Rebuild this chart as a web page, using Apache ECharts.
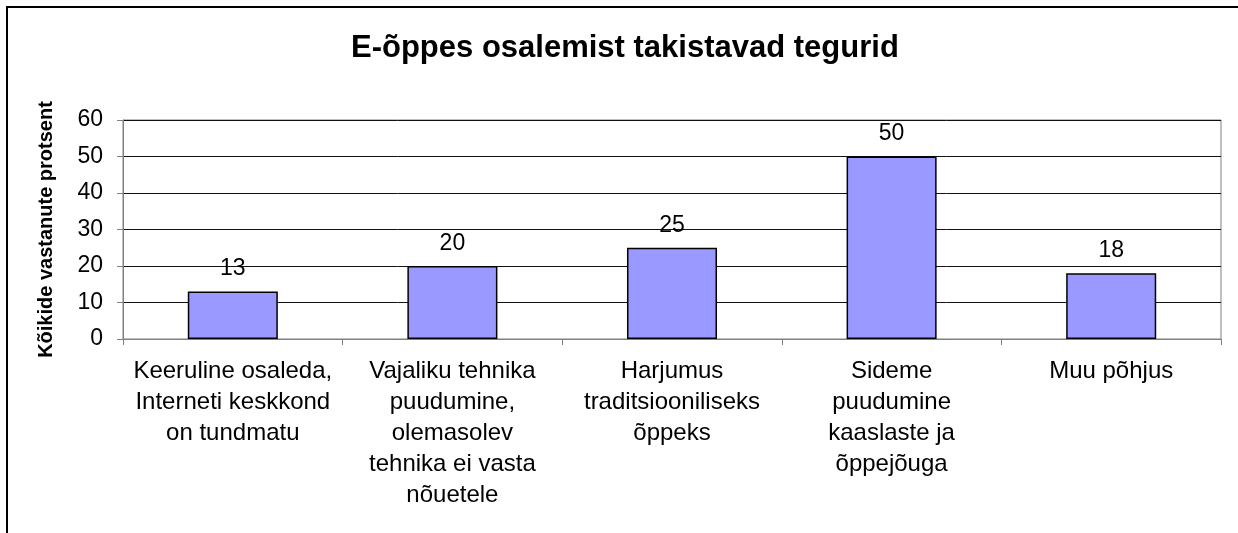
<!DOCTYPE html>
<html>
<head>
<meta charset="utf-8">
<script src="https://cdn.jsdelivr.net/npm/echarts@6/dist/echarts.min.js"></script>
<style>
  html, body { margin: 0; padding: 0; background: #fff; }
  #chart { width: 1238px; height: 533px; }
</style>
</head>
<body>
<div id="chart"></div>
<script>
  var categories = [
    'Keeruline osaleda,\nInterneti keskkond\non tundmatu',
    'Vajaliku tehnika\npuudumine,\nolemasolev\ntehnika ei vasta\nnõuetele',
    'Harjumus\ntraditsiooniliseks\nõppeks',
    'Sideme\npuudumine\nkaaslaste ja\nõppejõuga',
    'Muu põhjus'
  ];
  var values = [13, 20, 25, 50, 18];
  var yTicks = [0, 10, 20, 30, 40, 50, 60];

  var chart = echarts.init(document.getElementById('chart'));
  var font = '"Liberation Sans", Arial, sans-serif';
  var option = {
    animation: false,
    textStyle: { fontFamily: font },
    graphic: [{
      type: 'rect',
      shape: { x: 7, y: 7, width: 1260, height: 560 },
      style: { fill: 'none', stroke: '#000', lineWidth: 2 }
    }],
    title: {
      text: 'E-õppes osalemist takistavad tegurid',
      left: 346,
      top: 28,
      textStyle: { fontSize: 31, fontWeight: 'bold', color: '#000', fontFamily: font }
    },
    grid: { left: 123, right: 17, top: 120, bottom: 194, show: true, borderColor: '#808080', borderWidth: 1 },
    xAxis: {
      type: 'category',
      data: categories,
      axisLine: { lineStyle: { color: '#808080' } },
      axisTick: { show: true, alignWithLabel: false, length: 6, lineStyle: { color: '#808080' } },
      axisLabel: { color: '#000', fontSize: 24, lineHeight: 31, margin: 17, interval: 0 }
    },
    yAxis: {
      type: 'value',
      min: yTicks[0],
      max: yTicks[yTicks.length - 1],
      interval: 10,
      name: 'Kõikide vastanute protsent',
      nameLocation: 'middle',
      nameGap: 67,
      nameTextStyle: { fontSize: 20, fontWeight: 'bold', color: '#000' },
      axisLine: { show: true, lineStyle: { color: '#808080' } },
      axisTick: { show: true, length: 6, lineStyle: { color: '#808080' } },
      axisLabel: { color: '#000', fontSize: 23, margin: 20 },
      splitLine: { lineStyle: { color: '#111', width: 1 } }
    },
    series: [{
      type: 'bar',
      data: values,
      barWidth: '41%',
      itemStyle: { color: '#9999FF', borderColor: '#000', borderWidth: 1.5 },
      label: { show: true, position: 'top', distance: 11, color: '#000', fontSize: 23 }
    }]
  };
  chart.setOption(option);
</script>
</body>
</html>
